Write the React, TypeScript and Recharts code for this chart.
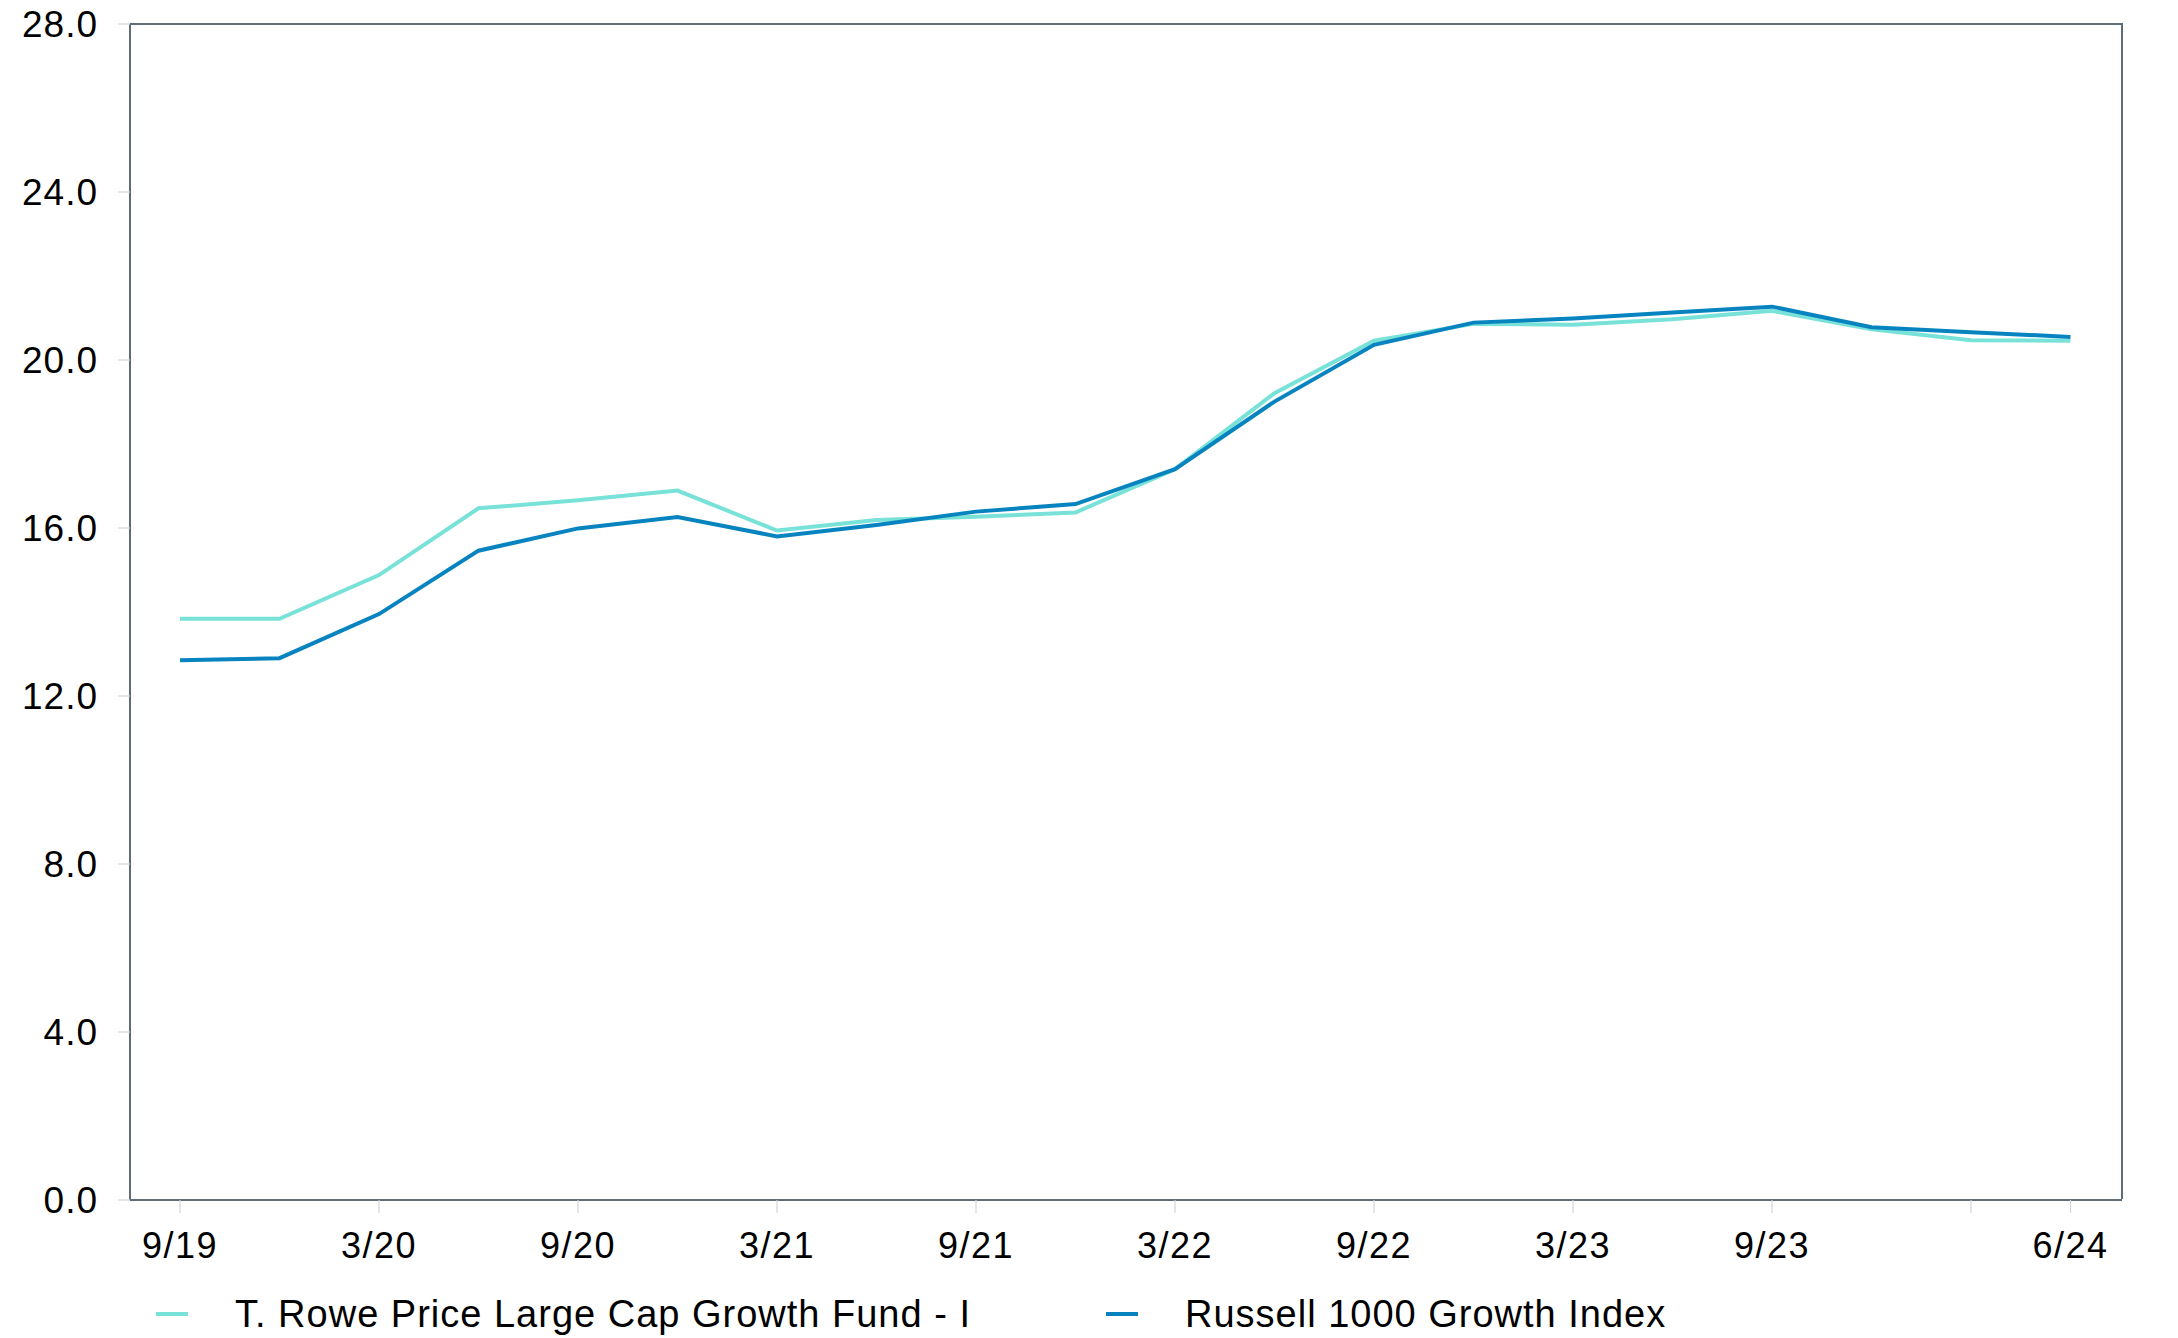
import { Line, LineChart, XAxis, YAxis } from "recharts"

// Quarter-end labels, 9/19 through 6/24
const quarters = [
  "9/19", "12/19", "3/20", "6/20", "9/20", "12/20", "3/21", "6/21", "9/21", "12/21",
  "3/22", "6/22", "9/22", "12/22", "3/23", "6/23", "9/23", "12/23", "3/24", "6/24",
]

const fundValues = [
  13.84, 13.84, 14.88, 16.47, 16.66, 16.89, 15.94, 16.19, 16.27, 16.37,
  17.4, 19.21, 20.46, 20.86, 20.84, 20.97, 21.17, 20.73, 20.47, 20.46,
]

const indexValues = [
  12.85, 12.9, 13.95, 15.46, 15.99, 16.26, 15.8, 16.07, 16.39, 16.57,
  17.4, 19.01, 20.36, 20.89, 20.99, 21.13, 21.27, 20.78, 20.66, 20.55,
]

const xTicks = ["9/19", "3/20", "9/20", "3/21", "9/21", "3/22", "9/22", "3/23", "9/23", "3/24", "6/24"]
const unlabelledTicks = ["3/24"]
const yTicks = [0, 4, 8, 12, 16, 20, 24, 28]

const series = [
  { key: "fund", name: "T. Rowe Price Large Cap Growth Fund - I", color: "#78e2d8" },
  { key: "index", name: "Russell 1000 Growth Index", color: "#0784bf" },
]

const data = quarters.map((q, i) => ({ q, fund: fundValues[i], index: indexValues[i] }))

const FONT = "'Liberation Sans', Arial, sans-serif"
const AXIS = "#606c76"
const TICK = "#d4d4d4"

// plot box (chart margins below put the plot here)
const PLOT = { left: 130, top: 24, right: 2122, bottom: 1200 }

export default function App() {
  return (
    <div style={{ position: "absolute", left: 0, top: 0, width: 2178, height: 1338, background: "#fff", fontFamily: FONT }}>
      <LineChart width={2178} height={1338} data={data} margin={{ top: PLOT.top, right: 2178 - PLOT.right, bottom: 0, left: 0 }}>
        <XAxis
          dataKey="q"
          ticks={xTicks}
          interval={0}
          height={1338 - PLOT.bottom}
          padding={{ left: 50, right: 51.5 }}
          tickFormatter={(v: string) => (unlabelledTicks.includes(v) ? "" : v)}
          axisLine={{ stroke: AXIS, strokeWidth: 2 }}
          tickLine={{ stroke: TICK, strokeWidth: 1.2 }}
          tickSize={13}
          tickMargin={19}
          tick={{ fill: "#000", fontSize: 36, fontFamily: FONT, style: { letterSpacing: "1.5px" } }}
        />
        <YAxis
          domain={[0, 28]}
          ticks={yTicks}
          width={PLOT.left}
          interval={0}
          tickFormatter={(v: number) => v.toFixed(1)}
          axisLine={{ stroke: AXIS, strokeWidth: 2 }}
          tickLine={{ stroke: TICK, strokeWidth: 1.2 }}
          tickSize={12}
          tickMargin={20}
          tick={{ fill: "#000", fontSize: 37, fontFamily: FONT, style: { letterSpacing: "1px" } }}
        />
        {series.map((s) => (
          <Line
            key={s.key}
            dataKey={s.key}
            name={s.name}
            stroke={s.color}
            strokeWidth={4}
            dot={false}
            activeDot={false}
            strokeLinejoin="miter"
            isAnimationActive={false}
          />
        ))}
      </LineChart>
      {/* top and right frame of the plot */}
      <div
        style={{
          position: "absolute",
          left: PLOT.left,
          top: PLOT.top - 1,
          width: PLOT.right - PLOT.left + 1,
          height: PLOT.bottom - PLOT.top,
          borderTop: `2px solid ${AXIS}`,
          borderRight: `2px solid ${AXIS}`,
          boxSizing: "border-box",
          pointerEvents: "none",
        }}
      />
      {series.map((s, i) => (
        <div
          key={s.key}
          style={{
            position: "absolute",
            left: i === 0 ? 156 : 1106,
            top: 1292,
            height: 44,
            display: "flex",
            alignItems: "center",
            fontSize: 38,
            letterSpacing: "1px",
            color: "#000",
            whiteSpace: "nowrap",
          }}
        >
          <div style={{ width: 32, height: 4, background: s.color, marginRight: 47 }} />
          <span>{s.name}</span>
        </div>
      ))}
    </div>
  )
}
